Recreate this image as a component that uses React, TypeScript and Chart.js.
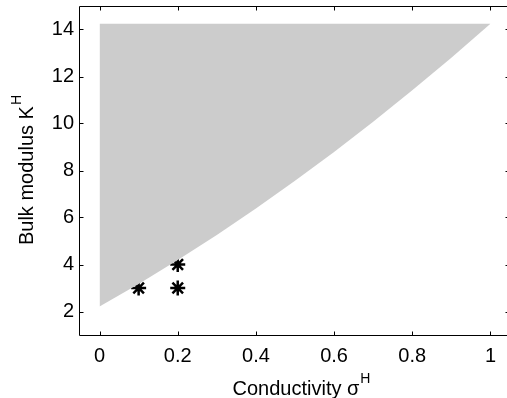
import React, { useEffect, useRef } from "react";
import { Chart, registerables } from "chart.js";

Chart.register(...registerables);

// Region bounds
const regionX = [0, 0.1, 0.2, 0.3, 0.4, 0.5, 0.6, 0.7, 0.8, 0.9, 1.0];
const regionLower = [2.21, 3.17, 4.19, 5.26, 6.38, 7.56, 8.79, 10.07, 11.41, 12.8, 14.25];
const regionUpper = [14.25, 14.25, 14.25, 14.25, 14.25, 14.25, 14.25, 14.25, 14.25, 14.25, 14.25];

// Star markers
const starX = [0.1, 0.2, 0.2];
const starY = [3, 3, 4];

// Axes
const xTickValues = [0, 0.2, 0.4, 0.6, 0.8, 1];
const xTickLabels = ["0", "0.2", "0.4", "0.6", "0.8", "1"];
const yTickValues = [2, 4, 6, 8, 10, 12, 14];
const yTickLabels = ["2", "4", "6", "8", "10", "12", "14"];
const xTitle = "Conductivity σ";
const xTitleSup = "H";
const yTitle = "Bulk modulus K";
const yTitleSup = "H";

const FONT = "'Liberation Sans', Arial, Helvetica, sans-serif";

const zeroPad = (s: any) => {
  s.paddingLeft = 0;
  s.paddingRight = 0;
  s.paddingTop = 0;
  s.paddingBottom = 0;
};

const boxPlugin = {
  id: "matlabBox",
  afterDraw(chart: any) {
    const ctx = chart.ctx;
    const a = chart.chartArea;
    const xs = chart.scales.x;
    const ys = chart.scales.y;
    ctx.save();
    ctx.strokeStyle = "#000";
    ctx.lineWidth = 1;
    const L = a.left - 0.5;
    const R = a.right - 0.5;
    const T = a.top + 0.5;
    const B = a.bottom + 0.5;
    ctx.beginPath();
    ctx.moveTo(L, T);
    ctx.lineTo(R, T);
    ctx.lineTo(R, B);
    ctx.lineTo(L, B);
    ctx.closePath();
    ctx.stroke();
    const tl = 4;
    ctx.beginPath();
    xTickValues.forEach((v) => {
      const px = Math.round(xs.getPixelForValue(v)) + 0.5;
      ctx.moveTo(px, B);
      ctx.lineTo(px, B - tl);
      ctx.moveTo(px, T);
      ctx.lineTo(px, T + tl);
    });
    yTickValues.forEach((v) => {
      const py = Math.round(ys.getPixelForValue(v)) + 0.5;
      ctx.moveTo(L, py);
      ctx.lineTo(L + tl, py);
      ctx.moveTo(R, py);
      ctx.lineTo(R - tl, py);
    });
    ctx.stroke();

    // axis titles with superscripts
    ctx.fillStyle = "#000";
    ctx.textBaseline = "alphabetic";
    ctx.textAlign = "left";
    const mainFont = `20px ${FONT}`;
    const supFont = `14px ${FONT}`;
    // x title
    ctx.font = mainFont;
    const wxMain = ctx.measureText(xTitle).width;
    ctx.font = supFont;
    const wxSup = ctx.measureText(xTitleSup).width;
    const xCenter = (a.left + a.right) / 2 + 6;
    const xStart = xCenter - (wxMain + wxSup) / 2;
    const xBase = 395;
    ctx.font = mainFont;
    ctx.fillText(xTitle, xStart, xBase);
    ctx.font = supFont;
    ctx.fillText(xTitleSup, xStart + wxMain + 1, xBase - 12);

    // y title (rotated)
    ctx.font = mainFont;
    const wyMain = ctx.measureText(yTitle).width;
    ctx.font = supFont;
    const wySup = ctx.measureText(yTitleSup).width;
    const yCenter = (a.top + a.bottom) / 2;
    ctx.translate(33, yCenter);
    ctx.rotate(-Math.PI / 2);
    const yStart = -(wyMain + wySup) / 2;
    ctx.font = mainFont;
    ctx.fillText(yTitle, yStart, 0);
    ctx.font = supFont;
    ctx.fillText(yTitleSup, yStart + wyMain + 1, -12);
    ctx.restore();
  },
};

export default function App() {
  const ref = useRef<HTMLCanvasElement>(null);
  useEffect(() => {
    if (!ref.current) return;
    const chart = new Chart(ref.current, {
      type: "scatter",
      data: {
        datasets: [
          {
            label: "upper",
            data: regionX.map((x, i) => ({ x, y: regionUpper[i] })),
            showLine: true,
            borderWidth: 0,
            borderColor: "rgba(0,0,0,0)",
            pointRadius: 0,
            fill: false,
          },
          {
            label: "lower",
            data: regionX.map((x, i) => ({ x, y: regionLower[i] })),
            showLine: true,
            borderWidth: 0,
            borderColor: "rgba(0,0,0,0)",
            backgroundColor: "#cccccc",
            pointRadius: 0,
            fill: "-1",
          },
          {
            label: "points",
            data: starX.map((x, i) => ({ x, y: starY[i] })),
            showLine: false,
            pointStyle: "star",
            pointRadius: 7.5,
            pointBorderWidth: 2.5,
            pointBorderColor: "#000",
            pointBackgroundColor: "#000",
            borderColor: "#000",
          },
        ],
      },
      options: {
        animation: false,
        responsive: false,
        layout: { autoPadding: false, padding: { top: 6, right: 0, left: 0, bottom: 0 } },
        plugins: {
          legend: { display: false },
          tooltip: { enabled: false },
        },
        scales: {
          x: {
            type: "linear",
            min: -0.05,
            max: 1.05,
            grid: { display: false, drawTicks: false },
            border: { display: false },
            afterBuildTicks: (s: any) => {
              s.ticks = xTickValues.map((v) => ({ value: v }));
            },
            afterFit: (s: any) => {
              s.height = 63;
              zeroPad(s);
            },
            ticks: {
              padding: 9,
              color: "#000",
              font: { family: FONT, size: 20 },
              maxRotation: 0,
              callback: (v: any) => {
                const i = xTickValues.findIndex((t) => Math.abs(t - v) < 1e-9);
                return i >= 0 ? xTickLabels[i] : "";
              },
            },
          },
          y: {
            type: "linear",
            min: 1,
            max: 15,
            grid: { display: false, drawTicks: false },
            border: { display: false },
            afterBuildTicks: (s: any) => {
              s.ticks = yTickValues.map((v) => ({ value: v }));
            },
            afterFit: (s: any) => {
              s.width = 80;
              zeroPad(s);
            },
            ticks: {
              padding: 6,
              color: "#000",
              font: { family: FONT, size: 20 },
              callback: (v: any) => {
                const i = yTickValues.findIndex((t) => Math.abs(t - v) < 1e-9);
                return i >= 0 ? yTickLabels[i] : "";
              },
            },
          },
        },
      },
      plugins: [boxPlugin],
    });
    return () => chart.destroy();
  }, []);
  return (
    <div
      style={{
        position: "fixed",
        left: 0,
        top: 0,
        width: 507,
        height: 398,
        overflow: "hidden",
        background: "#fff",
      }}
    >
      <canvas ref={ref} width={510} height={398} style={{ width: 510, height: 398, display: "block" }} />
    </div>
  );
}
